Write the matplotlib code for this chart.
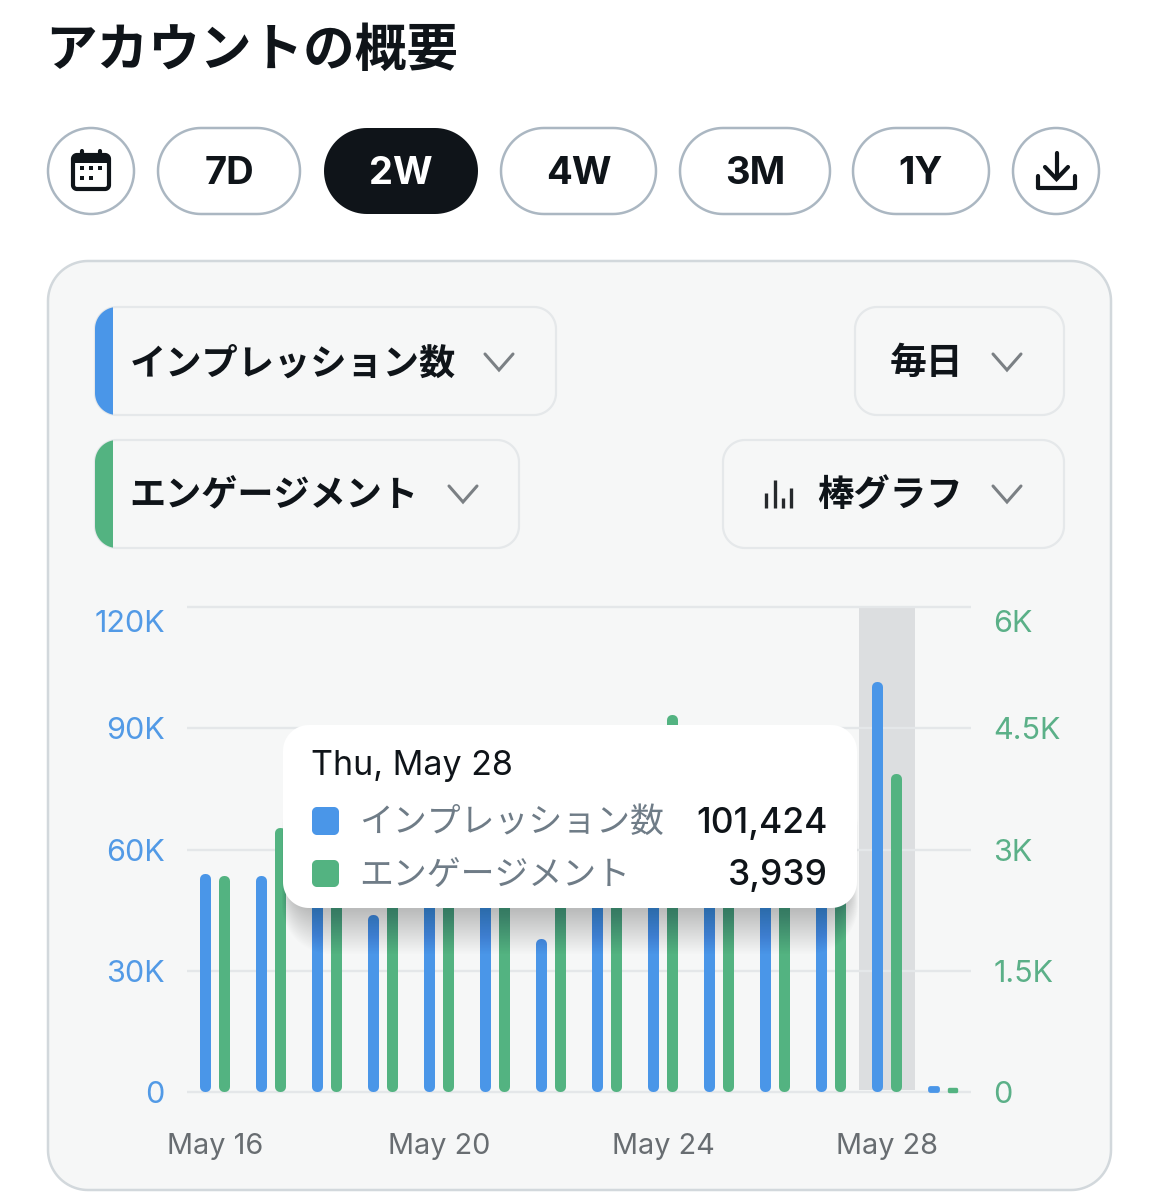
import numpy as np
import matplotlib
matplotlib.use('Agg')
import matplotlib.pyplot as plt
from matplotlib.patches import Polygon, Rectangle, Circle
from matplotlib.transforms import ScaledTranslation

plt.rcParams['font.family'] = ['Inter', 'Noto Sans CJK JP', 'DejaVu Sans']

# chart data
days = ['May 16', 'May 17', 'May 18', 'May 19', 'May 20', 'May 21', 'May 22',
        'May 23', 'May 24', 'May 25', 'May 26', 'May 27', 'May 28', 'May 29']
impressions = [54100, 53600, 61000, 43800, 58000, 52000, 37800,
               64000, 66000, 56000, 57000, 53000, 101424, 1700]
engagements = [2670, 3270, 3400, 3100, 2900, 3000, 3300,
               3600, 4670, 3500, 3200, 2800, 3939, 60]
left_ticks = [0, 30000, 60000, 90000, 120000]
left_labels = ['0', '30K', '60K', '90K', '120K']
right_ticks = [0, 1500, 3000, 4500, 6000]
right_labels = ['0', '1.5K', '3K', '4.5K', '6K']
range_buttons = ['7D', '2W', '4W', '3M', '1Y']
selected_day = 'May 28'

INK = '#0f1419'
BLUE = '#4a96e8'
GREEN = '#53b381'
BLUE_TXT = '#529ae6'
GREEN_TXT = '#5bb088'
PANEL = '#f6f7f7'
W, H = 1159, 1200

fig = plt.figure(figsize=(W / 100, H / 100), dpi=100, facecolor='white')


def px_axes(zorder):
    a = fig.add_axes([0, 0, 1, 1], zorder=zorder)
    a.set_xlim(0, W)
    a.set_ylim(H, 0)
    a.axis('off')
    a.patch.set_alpha(0)
    return a


def box(a, x0, y0, x1, y1, r, fc, ec='none', lw=0, **kw):
    # rounded box with true circular corners
    t = np.linspace(0, np.pi / 2, 24)
    pts = []
    for cx, cy, start in [(x1 - r, y0 + r, -np.pi / 2), (x1 - r, y1 - r, 0),
                          (x0 + r, y1 - r, np.pi / 2), (x0 + r, y0 + r, np.pi)]:
        pts.append(np.column_stack([cx + r * np.cos(start + t), cy + r * np.sin(start + t)]))
    p = Polygon(np.vstack(pts), closed=True, fc=fc, ec=ec, lw=lw, **kw)
    a.add_patch(p)
    return p


def chevron(a, cx, cy):
    a.plot([cx - 14, cx, cx + 14], [cy - 8, cy + 8, cy - 8], color='#7b8084', lw=2.2,
           solid_capstyle='round', solid_joinstyle='miter')


bg = px_axes(0)

bg.text(45.5, 52, 'アカウントの概要', fontsize=37.2, fontweight='bold', color=INK,
        va='center', ha='left')

# top row of buttons
edge = '#abb7c2'
bg.add_patch(Circle((91, 171), 43, fc='white', ec=edge, lw=1.8))
bg.add_patch(Circle((1056, 171), 43, fc='white', ec=edge, lw=1.8))
button_x = [(158, 300), (324, 478), (501, 656), (680, 830), (853, 989)]
for label, (x0, x1) in zip(range_buttons, button_x):
    active = label == '2W'
    box(bg, x0, 128, x1, 214, 43, INK if active else 'white',
        ec='none' if active else edge, lw=0 if active else 1.8)
    bg.text((x0 + x1) / 2, 174, label, fontsize=27.5, fontweight='bold',
            color='white' if active else INK, ha='center', va='center')

# calendar icon
box(bg, 73, 155, 109, 189, 4, 'none', ec=INK, lw=3)
bg.add_patch(Rectangle((73, 155), 36, 8, fc=INK, ec='none'))
for x in [82, 100]:
    bg.plot([x, x], [151, 157], color=INK, lw=3, solid_capstyle='round')
for x, y in [(82, 168), (91, 168), (100, 168), (82, 178), (91, 178)]:
    bg.add_patch(Rectangle((x - 2.2, y - 2.2), 4.4, 4.4, fc=INK, ec='none'))

# download icon
bg.plot([1038, 1038, 1075, 1075], [176, 188, 188, 176], color=INK, lw=3,
        solid_capstyle='round', solid_joinstyle='round')
bg.plot([1056.5, 1056.5], [153, 178], color=INK, lw=3, solid_capstyle='round')
bg.plot([1045, 1056.5, 1068], [167, 179, 167], color=INK, lw=3,
        solid_capstyle='round', solid_joinstyle='miter')

# panel
box(bg, 48, 261, 1111, 1190, 40, PANEL, ec='#d2d8dc', lw=1.8)

# dropdowns
for x0, y0, x1, y1, strip in [(95, 307, 556, 415, BLUE), (95, 440, 519, 548, GREEN),
                              (855, 307, 1064, 415, None), (723, 440, 1064, 548, None)]:
    b = box(bg, x0, y0, x1, y1, 22, PANEL, ec='#e5e8ea', lw=1.6)
    if strip:
        s = Rectangle((x0, y0), 18, y1 - y0, fc=strip, ec='none', zorder=3)
        bg.add_patch(s)
        s.set_clip_path(b)

bg.text(129.5, 364, 'インプレッション数', fontsize=26.1, fontweight='bold', color=INK, va='center')
bg.text(129.5, 496, 'エンゲージメント', fontsize=26.0, fontweight='bold', color=INK, va='center')
bg.text(890, 364, '毎日', fontsize=26.5, fontweight='bold', color=INK, va='center')
bg.text(817.5, 496, '棒グラフ', fontsize=26.2, fontweight='bold', color=INK, va='center')
chevron(bg, 499, 362)
chevron(bg, 463, 494)
chevron(bg, 1007, 362)
chevron(bg, 1007, 494)
for x, top in [(766, 493), (775, 480), (783, 498), (791, 488)]:
    bg.plot([x, x], [top, 508], color='#26292c', lw=2.4, solid_capstyle='butt')

# chart
ax_left, ax_right, ax_top, ax_bottom = 187.0, 971.0, 607.0, 1092.3
ax = fig.add_axes([ax_left / W, 1 - ax_bottom / H, (ax_right - ax_left) / W,
                   (ax_bottom - ax_top) / H], zorder=1)
ax.patch.set_alpha(0)
ax2 = ax.twinx()
ax2.patch.set_alpha(0)
x = np.arange(len(days))
ax.set_xlim(-0.5, len(days) - 0.5)
ax.set_ylim(0, left_ticks[-1])
ax2.set_ylim(0, right_ticks[-1])
for a in (ax, ax2):
    for sp in a.spines.values():
        sp.set_visible(False)

sel = days.index(selected_day)
ax.axvspan(sel - 0.5, sel + 0.5, ymin=0.004, ymax=1, color='#dcdee0', lw=0, zorder=0.2)


def round_bars(a, xs, vals, color, ymax):
    # bars with round ends: a thin bar with a thick round-joined outline
    px_per_val = (ax_bottom - ax_top) / ymax
    for xi, v in zip(xs, vals):
        h = v * px_per_val
        lw_px = min(10.0, h * 0.7)
        inset = lw_px / 2 / px_per_val
        width = (11.0 - lw_px) / 56.0
        a.bar(xi, v - 2 * inset, bottom=inset, width=width, color=color, edgecolor=color,
              lw=lw_px * 0.72, joinstyle='round', zorder=3, clip_on=False)


offset = 9.5 / 56.0
round_bars(ax, x - offset, impressions, BLUE, left_ticks[-1])
round_bars(ax2, x + offset, engagements, GREEN, right_ticks[-1])

ax.set_yticks(left_ticks, left_labels)
ax2.set_yticks(right_ticks, right_labels)
ax.set_xticks(x[::4], days[::4])
ax.set_axisbelow(True)
ax.grid(axis='y', color='#e4e7e9', lw=1.7, solid_capstyle='butt')
ax.grid(axis='x', visible=False)
for g in ax.yaxis.get_gridlines():
    g.set_clip_on(False)
ax.tick_params(axis='y', length=0, pad=16, labelsize=22, labelcolor=BLUE_TXT)
ax2.tick_params(axis='y', length=0, pad=16, labelsize=22, labelcolor=GREEN_TXT)
ax.tick_params(axis='x', length=0, pad=29, labelsize=20.8, labelcolor='#686d71')

# the top labels sit below their grid line
for a in (ax, ax2):
    top_lab = a.get_yticklabels()[-1]
    top_lab.set_transform(top_lab.get_transform() + ScaledTranslation(0, -10 / 72, fig.dpi_scale_trans))

# tooltip
top = px_axes(5)
for i in range(30):
    grow = 46 - i * 1.5
    box(top, 291 - grow * 0.2, 780, 849 + grow * 0.2, 908 + grow, 26 + grow * 0.5,
        'black', alpha=0.0075)
box(top, 283, 725, 857, 908, 26, 'white')
top.text(311, 766, 'Thu, May 28', fontsize=24.5, color=INK, va='center')
box(top, 312, 807, 339, 835, 5, BLUE)
box(top, 312, 860, 339, 887, 5, GREEN)
top.text(359.5, 823, 'インプレッション数', fontsize=24.4, color='#6f7c87', va='center')
top.text(359.5, 876, 'エンゲージメント', fontsize=24.4, color='#6f7c87', va='center')
top.text(828, 823, format(impressions[sel], ','), fontsize=25.5, fontweight='medium', color=INK,
         ha='right', va='center')
top.text(828, 875, format(engagements[sel], ','), fontsize=25.5, fontweight='medium', color=INK,
         ha='right', va='center')

fig.savefig('out.png', dpi=100, facecolor='white')
